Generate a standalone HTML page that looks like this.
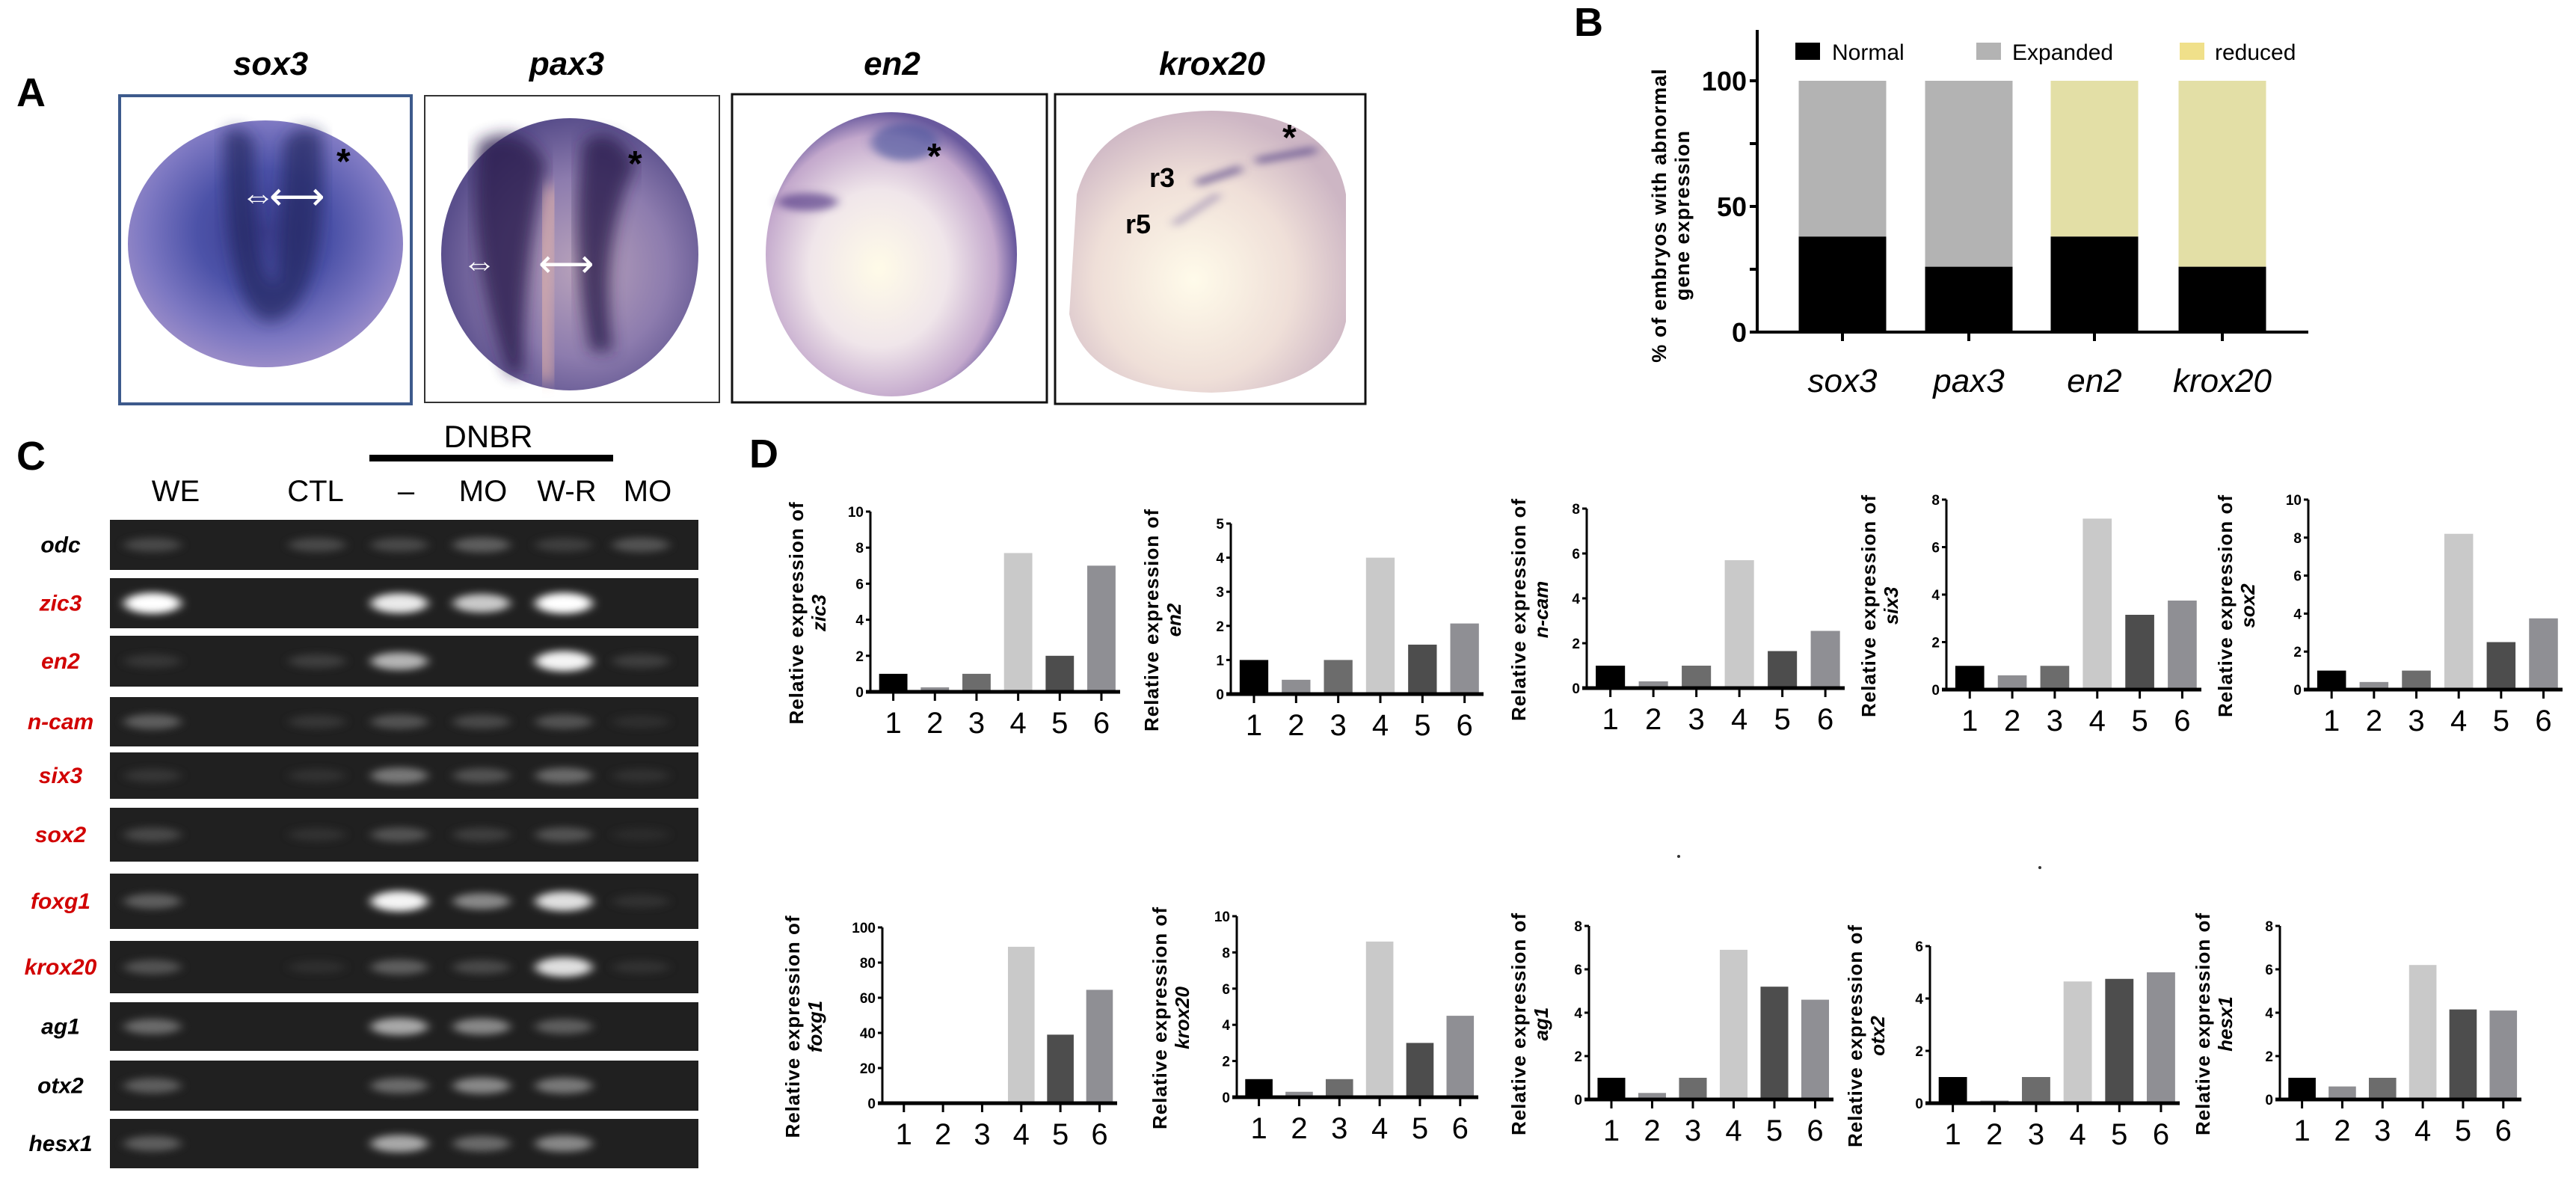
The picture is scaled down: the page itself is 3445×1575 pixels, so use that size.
<!DOCTYPE html>
<html><head><meta charset="utf-8">
<style>
html,body{margin:0;padding:0;background:#fff;}
svg{display:block;}
text{font-family:"Liberation Sans",sans-serif;}
.nar{font-family:"Liberation Sans Narrow","Liberation Sans",sans-serif;}
</style></head>
<body>
<svg id="fig" width="3445" height="1575" viewBox="0 0 3445 1575" xmlns="http://www.w3.org/2000/svg">
<defs>
<radialGradient id="gSox" cx="50%" cy="45%" r="55%"><stop offset="0" stop-color="#3a3c8c"/><stop offset="0.45" stop-color="#4c52a8"/><stop offset="0.8" stop-color="#7d78c2"/><stop offset="1" stop-color="#9a8cc8"/></radialGradient>
<radialGradient id="gPax" cx="55%" cy="55%" r="55%"><stop offset="0" stop-color="#b9a3bb"/><stop offset="0.6" stop-color="#8d7cae"/><stop offset="1" stop-color="#5a4f8c"/></radialGradient>
<radialGradient id="gEn" cx="45%" cy="55%" r="55%"><stop offset="0" stop-color="#fffbe8"/><stop offset="0.5" stop-color="#f0e6ea"/><stop offset="0.85" stop-color="#c3a8cc"/><stop offset="1" stop-color="#6a5a9e"/></radialGradient>
<radialGradient id="gKr" cx="45%" cy="60%" r="60%"><stop offset="0" stop-color="#fffbea"/><stop offset="0.6" stop-color="#efdfd8"/><stop offset="1" stop-color="#cdb6c4"/></radialGradient>
<filter id="blur" x="-50%" y="-100%" width="200%" height="300%"><feGaussianBlur stdDeviation="7 5"/></filter>
<filter id="blur2"><feGaussianBlur stdDeviation="10"/></filter>
</defs>

<!-- Panel A -->
<text x="22" y="142" font-size="54" font-weight="bold">A</text>
<g font-size="44" font-weight="bold" font-style="italic" text-anchor="middle">
<text x="362" y="100">sox3</text>
<text x="758" y="100">pax3</text>
<text x="1193" y="100">en2</text>
<text x="1621" y="100">krox20</text>
</g>
<g>
<rect x="160" y="128" width="390" height="412" fill="#fff" stroke="#3d5a8c" stroke-width="4"/>
<ellipse cx="355" cy="326" rx="184" ry="165" fill="url(#gSox)"/>
<path d="M300 180 Q300 420 360 430 Q440 420 430 180 Q400 160 380 190 L370 380 Q340 380 340 190 Q320 160 300 180Z" fill="#23285e" opacity="0.7" filter="url(#blur2)"/>
<text x="450" y="232" font-size="48" font-weight="bold">*</text>
<text x="322" y="278" font-size="46" fill="#fff" font-weight="bold">⇔</text>
<text x="360" y="280" font-size="52" fill="#fff">⟷</text>
</g>
<g>
<rect x="568" y="128" width="394" height="410" fill="#fff" stroke="#333" stroke-width="2"/>
<ellipse cx="762" cy="340" rx="172" ry="182" fill="url(#gPax)"/>
<path d="M640 190 Q620 330 680 500 L700 500 Q700 350 730 220 Q700 160 640 190Z" fill="#2a1e4e" opacity="0.8" filter="url(#blur2)"/>
<path d="M780 190 Q760 330 790 470 L820 470 Q800 330 850 220 Q820 160 780 190Z" fill="#2a1e4e" opacity="0.8" filter="url(#blur2)"/>
<path d="M740 250 Q720 380 730 510" stroke="#e8b6a8" stroke-width="22" fill="none" opacity="0.7" filter="url(#blur2)"/>
<text x="840" y="235" font-size="48" font-weight="bold">*</text>
<text x="618" y="368" font-size="46" fill="#fff" font-weight="bold">⇔</text>
<text x="720" y="370" font-size="52" fill="#fff">⟷</text>
</g>
<g>
<rect x="979" y="126" width="421" height="412" fill="#fff" stroke="#111" stroke-width="3"/>
<ellipse cx="1192" cy="340" rx="168" ry="190" fill="url(#gEn)"/>
<ellipse cx="1080" cy="270" rx="40" ry="12" fill="#5a3f8a" opacity="0.7" filter="url(#blur)"/>
<ellipse cx="1210" cy="190" rx="45" ry="25" fill="#3f4e9a" opacity="0.6" filter="url(#blur)"/>
<text x="1240" y="225" font-size="48" font-weight="bold">*</text>
</g>
<g>
<rect x="1411" y="126" width="415" height="414" fill="#fff" stroke="#111" stroke-width="3"/>
<path d="M1440 260 Q1470 150 1620 148 Q1780 150 1800 260 L1800 430 Q1780 520 1620 525 Q1450 520 1430 420Z" fill="url(#gKr)"/>
<path d="M1600 245 L1660 225" stroke="#5a4a8a" stroke-width="10" opacity="0.7" filter="url(#blur)"/>
<path d="M1680 215 L1760 200" stroke="#5a4a8a" stroke-width="10" opacity="0.7" filter="url(#blur)"/>
<path d="M1570 300 L1630 260" stroke="#6a5a9a" stroke-width="8" opacity="0.5" filter="url(#blur)"/>
<text x="1537" y="250" font-size="36" font-weight="bold">r3</text>
<text x="1505" y="312" font-size="36" font-weight="bold">r5</text>
<text x="1715" y="200" font-size="48" font-weight="bold">*</text>
</g>

<!-- Panel B -->
<text x="2105" y="48" font-size="54" font-weight="bold">B</text>
<g id="chartB"></g>

<!-- Panel C -->
<text x="22" y="628" font-size="54" font-weight="bold">C</text>
<text x="653" y="598" font-size="42" text-anchor="middle" class="nar">DNBR</text>
<rect x="494" y="608" width="326" height="9" fill="#000"/>
<g id="gel"></g>

<!-- Panel D -->
<text x="1002" y="625" font-size="54" font-weight="bold">D</text>
<g id="chartsD"></g>
<circle cx="2245" cy="1145" r="2" fill="#333"/>
<circle cx="2728" cy="1160" r="2" fill="#333"/>
</svg>
<script>
// ---------- Panel B data ----------
const bCategories = ['sox3','pax3','en2','krox20'];
const bNormal = [38, 26, 38, 26];
const bAbnormal = [62, 74, 62, 74];
const bAbnormalType = ['Expanded','Expanded','reduced','reduced'];
const bTicks = [0, 50, 100];

// ---------- Panel C data ----------
const gelLanes = ['WE','CTL','-','MO','W-R','MO'];
const gelGenes = ['odc','zic3','en2','n-cam','six3','sox2','foxg1','krox20','ag1','otx2','hesx1'];
const gelRed = [false,true,true,true,true,true,true,true,false,false,false];
const gelIntensity = [
 [0.25,0.25,0.25,0.35,0.2,0.3],
 [1,0,0.9,0.75,1,0],
 [0.15,0.2,0.65,0,0.95,0.2],
 [0.35,0.15,0.3,0.25,0.3,0.1],
 [0.15,0.12,0.45,0.3,0.4,0.12],
 [0.25,0.12,0.3,0.2,0.3,0.08],
 [0.35,0,0.95,0.5,0.85,0.12],
 [0.3,0.1,0.35,0.25,0.85,0.12],
 [0.4,0,0.6,0.5,0.35,0],
 [0.35,0,0.4,0.5,0.45,0],
 [0.35,0,0.6,0.4,0.5,0]
];

// ---------- Panel D data ----------
const dCategories = ['1','2','3','4','5','6'];
const zic3Values = [1, 0.25, 1, 7.7, 2.0, 7.0];
const en2Values = [1, 0.42, 1, 4.0, 1.45, 2.07];
const ncamValues = [1, 0.3, 1, 5.7, 1.65, 2.55];
const six3Values = [1, 0.6, 1, 7.2, 3.15, 3.75];
const sox2Values = [1, 0.4, 1, 8.2, 2.5, 3.75];
const foxg1Values = [1, 0.3, 1, 89, 39, 64.5];
const krox20Values = [1, 0.3, 1, 8.6, 3.0, 4.5];
const ag1Values = [1, 0.3, 1, 6.9, 5.2, 4.6];
const otx2Values = [1, 0.1, 1, 4.65, 4.75, 5.0];
const hesx1Values = [1, 0.6, 1, 6.2, 4.15, 4.1];
const zic3Ticks = [0,2,4,6,8,10];
const en2Ticks = [0,1,2,3,4,5];
const ncamTicks = [0,2,4,6,8];
const six3Ticks = [0,2,4,6,8];
const sox2Ticks = [0,2,4,6,8,10];
const foxg1Ticks = [0,20,40,60,80,100];
const krox20Ticks = [0,2,4,6,8,10];
const ag1Ticks = [0,2,4,6,8];
const otx2Ticks = [0,2,4,6];
const hesx1Ticks = [0,2,4,6,8];

const NS = 'http://www.w3.org/2000/svg';
function mk(parent, tag, attrs, txt){
  const e = document.createElementNS(NS, tag);
  for (const k in attrs) e.setAttribute(k, attrs[k]);
  if (txt !== undefined) e.textContent = txt;
  parent.appendChild(e);
  return e;
}

// ---------- Panel B ----------
(function(){
  const g = document.getElementById('chartB');
  const x0 = 2350, x1 = 3087, yTop = 40, y0 = 444, y100 = 108;
  const yS = v => y0 - (y0 - y100) * v / 100;
  const barCenters = [2464, 2633, 2801, 2972];
  const bw = 117;
  let e = mk(g,'line',{x1:x0,y1:yTop,x2:x0,y2:y0+2,stroke:'#000','stroke-width':4});
  
  
  e = mk(g,'line',{x1:x0-2,y1:y0,x2:x1,y2:y0,stroke:'#000','stroke-width':4});
  
  
  bTicks.forEach(t=>{
    let tk = mk(g,'line',{x1:x0-10,y1:yS(t),x2:x0,y2:yS(t),stroke:'#000','stroke-width':4});
    
    
    let tl = mk(g,'text',{x:x0-14,y:yS(t)+13,'font-size':36,'font-weight':'bold','text-anchor':'end',class:'nar'},String(t));
    
    
  });
  let mt = mk(g,'line',{x1:x0-10,y1:yS(75),x2:x0,y2:yS(75),stroke:'#000','stroke-width':4});
  
  
  mt = mk(g,'line',{x1:x0-10,y1:yS(25),x2:x0,y2:yS(25),stroke:'#000','stroke-width':4});
  
  
  const ttl = mk(g,'text',{transform:'translate(2228 288) rotate(-90)','font-size':27,'font-weight':'bold','text-anchor':'middle','letter-spacing':'1'});
  
  
  mk(ttl,'tspan',{x:0,y:0},'% of embryos with abnormal');
  mk(ttl,'tspan',{x:0,y:31},'gene expression');
  bCategories.forEach((c,i)=>{
    const cx = barCenters[i];
    const col = bAbnormalType[i]==='Expanded' ? '#b3b3b3' : '#e3dfa6';
    let r = mk(g,'rect',{x:cx-bw/2,y:yS(bNormal[i]+bAbnormal[i]),width:bw,height:yS(bNormal[i])-yS(bNormal[i]+bAbnormal[i]),fill:col});
    
    
    r = mk(g,'rect',{x:cx-bw/2,y:yS(bNormal[i]),width:bw,height:y0-yS(bNormal[i]),fill:'#000'});
    
    
    let tk = mk(g,'line',{x1:cx,y1:y0,x2:cx,y2:y0+12,stroke:'#000','stroke-width':4});
    
    
    let tl = mk(g,'text',{x:cx,y:524,'font-size':44,'font-style':'italic','text-anchor':'middle',class:'nar'},c);
    
    
  });
  const leg = [['Normal','#000',2401,2450],['Expanded','#b3b3b3',2643,2691],['reduced','#f0e08a',2915,2962]];
  leg.forEach(l=>{
    let s = mk(g,'rect',{x:l[2],y:57,width:33,height:23,fill:l[1]});
    
    
    let t = mk(g,'text',{x:l[3],y:80,'font-size':30,class:'nar'},l[0]);
    
    
  });
})();

// ---------- Panel C ----------
(function(){
  const g = document.getElementById('gel');
  const laneX = [204, 424, 534, 644, 754, 857];
  const hdrX = [235, 422, 543, 646, 758, 866];
  const rows = [[695,762],[773,840],[850,918],[932,998],[1006,1068],[1080,1152],[1168,1242],[1258,1328],[1340,1405],[1418,1485],[1496,1562]];
  gelLanes.forEach((l,i)=>{
    let t = mk(g,'text',{x:hdrX[i],y:670,'font-size':40,'text-anchor':'middle',class:'nar'},l==='-'?'–':l);
    
    
  });
  gelGenes.forEach((gn,r)=>{
    const [ya,yb] = rows[r];
    let bg = mk(g,'rect',{x:147,y:ya,width:787,height:yb-ya,fill:'#202020'});
    
    
    const cy = (ya+yb)/2;
    gelIntensity[r].forEach((v,i)=>{
      if (v<=0) return;
      const lv = Math.round(40 + 215*v);
      let b = mk(g,'ellipse',{cx:laneX[i],cy:cy,rx:38,ry:8+6*v,fill:'rgb('+lv+','+lv+','+lv+')',opacity:Math.min(1,0.4+v),filter:'url(#blur)'});
      
      
    });
    let t = mk(g,'text',{x:81,y:cy+10,'font-size':30,'font-weight':'bold','font-style':'italic','text-anchor':'middle',fill:gelRed[r]?'#d10000':'#000'},gn);
    
    
  });
})();

// ---------- Panel D ----------
const dColors = ['#000000','#8e8e92','#6c6c6c','#c9c9c9','#4d4d4d','#8f8f94'];
function drawChart(name, values, ticks, ax, axEnd, yTopPx, y0, labelX){
  const g = document.getElementById('chartsD');
  const maxT = ticks[ticks.length-1];
  const yS = v => y0 - (y0 - yTopPx) * v / maxT;
  const slot = (axEnd - ax) / values.length;
  const cg = mk(g,'g',{});
  
  
  values.forEach((v,i)=>{
    const cx = ax + slot*(i+0.55);
    const bw = slot*0.68;
    let r = mk(cg,'rect',{x:cx-bw/2,y:yS(v),width:bw,height:y0-yS(v),fill:dColors[i]});
    
    
    let tk = mk(cg,'line',{x1:cx,y1:y0,x2:cx,y2:y0+12,stroke:'#000','stroke-width':3});
    
    
    let tl = mk(cg,'text',{x:cx,y:y0+55,'font-size':40,'text-anchor':'middle',class:'nar'},dCategories[i]);
    
    
  });
  let a = mk(cg,'line',{x1:ax,y1:yTopPx,x2:ax,y2:y0,stroke:'#000','stroke-width':3});
  
  
  a = mk(cg,'line',{x1:ax-6,y1:y0,x2:axEnd,y2:y0,stroke:'#000','stroke-width':5});
  
  
  ticks.forEach(t=>{
    let tk = mk(cg,'line',{x1:ax-6,y1:yS(t),x2:ax,y2:yS(t),stroke:'#000','stroke-width':3});
    
    
    let tl = mk(cg,'text',{x:ax-9,y:yS(t)+7,'font-size':19,'font-weight':'bold','text-anchor':'end',class:'nar'},String(t));
    
    
  });
  const my = (yTopPx + y0)/2 + 15;
  const ttl = mk(cg,'text',{transform:'translate('+labelX+' '+my+') rotate(-90)','font-size':26,'font-weight':'bold','text-anchor':'middle'});
  
  
  mk(ttl,'tspan',{x:0,y:0,'letter-spacing':'1'},'Relative expression of');
  mk(ttl,'tspan',{x:0,y:30,'font-style':'italic'},name);
}
drawChart('zic3', zic3Values, zic3Ticks, 1164, 1498, 684, 925, 1074);
drawChart('en2', en2Values, en2Ticks, 1646, 1984, 700, 928, 1549);
drawChart('n-cam', ncamValues, ncamTicks, 2122, 2467, 680, 920, 2040);
drawChart('six3', six3Values, six3Ticks, 2603, 2944, 668, 922, 2508);
drawChart('sox2', sox2Values, sox2Ticks, 3087, 3427, 668, 922, 2985);
drawChart('foxg1', foxg1Values, foxg1Ticks, 1180, 1494, 1240, 1475, 1069);
drawChart('krox20', krox20Values, krox20Ticks, 1654, 1977, 1225, 1467, 1560);
drawChart('ag1', ag1Values, ag1Ticks, 2125, 2452, 1238, 1470, 2040);
drawChart('otx2', otx2Values, otx2Ticks, 2581, 2915, 1265, 1475, 2490);
drawChart('hesx1', hesx1Values, hesx1Ticks, 3049, 3372, 1238, 1470, 2955);
</script>
</body></html>
